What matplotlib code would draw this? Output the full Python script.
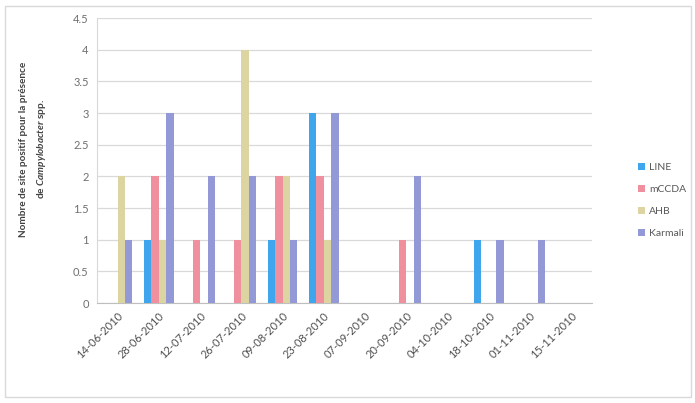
import numpy as np
import matplotlib
matplotlib.use("Agg")
import matplotlib.pyplot as plt
from matplotlib.patches import Rectangle

# dates d'échantillonnage
dates = ["14-06-2010", "28-06-2010", "12-07-2010", "26-07-2010", "09-08-2010",
         "23-08-2010", "07-09-2010", "20-09-2010", "04-10-2010", "18-10-2010",
         "01-11-2010", "15-11-2010"]

line_vals = [0, 1, 0, 0, 1, 3, 0, 0, 0, 1, 0, 0]
mccda_vals = [0, 2, 1, 1, 2, 2, 0, 1, 0, 0, 0, 0]
ahb_vals = [2, 1, 0, 4, 2, 1, 0, 0, 0, 0, 0, 0]
karmali_vals = [1, 3, 2, 2, 1, 3, 0, 2, 0, 1, 1, 0]

series_names = ["LINE", "mCCDA", "AHB", "Karmali"]
colors = ["#3fa6ee", "#f0909e", "#dcd5a2", "#9299d6"]

plt.rcParams['font.family'] = ['Lato', 'DejaVu Sans']
plt.rcParams['mathtext.fontset'] = 'custom'
plt.rcParams['mathtext.it'] = 'Lato:italic:bold'

fig = plt.figure(figsize=(6.95, 4.03), dpi=100)
ax = fig.add_axes([0.1396, 0.248, 0.7122, 0.707])

# cadre extérieur du graphique
fig.patches.append(Rectangle((5 / 695, 6 / 403), 686 / 695, 391 / 403,
                             transform=fig.transFigure, fill=False,
                             edgecolor="#d9d9d9", linewidth=1))

x = np.arange(len(dates))
w = 0.18
all_vals = [line_vals, mccda_vals, ahb_vals, karmali_vals]
for i, vals in enumerate(all_vals):
    ax.bar(x + (i - 1.5) * w, vals, width=w, color=colors[i],
           label=series_names[i], zorder=3)

ax.set_xlim(-0.5, len(dates) - 0.5)
ax.set_ylim(0, 4.5)
yt = np.arange(0, 4.51, 0.5)
ax.set_yticks(yt)
ax.set_yticklabels([f"{v:g}" for v in yt], color="#6f6f6f", fontsize=8)
ax.set_xticks(x)
ax.set_xticklabels(dates, rotation=45, ha="right", rotation_mode="anchor",
                   color="#505050", fontsize=8)
ax.tick_params(axis="both", length=0, pad=6)
ax.tick_params(axis="x", pad=5)

ax.grid(axis="y", color="#d9d9d9", linewidth=0.9, zorder=0)
for s in ["top", "right"]:
    ax.spines[s].set_visible(False)
ax.spines["left"].set_color("#d9d9d9")
ax.spines["bottom"].set_color("#bfbfbf")

ax.set_ylabel("Nombre de site positif pour la présence\nde $\\mathit{Campylobacter}$ spp.",
              fontsize=7.2, fontweight="bold", color="#404040",
              linespacing=1.7)
ax.yaxis.set_label_coords(-0.1, 0.54)

leg = ax.legend(loc="center left", bbox_to_anchor=(1.075, 0.36), frameon=False,
                fontsize=7.5, handlelength=0.6, handleheight=0.6,
                handletextpad=0.4, labelspacing=1.25)
for t in leg.get_texts():
    t.set_color("#595959")

fig.savefig("out.png", dpi=100)
